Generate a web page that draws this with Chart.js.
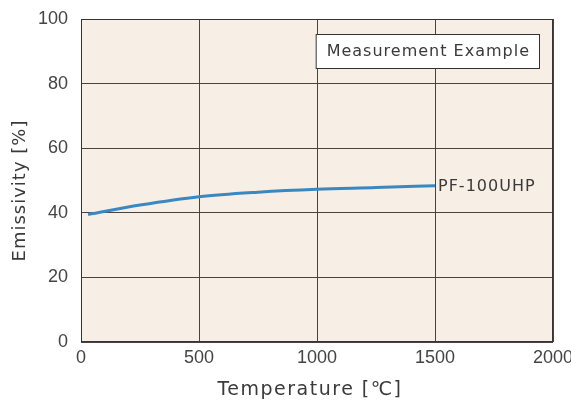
<!DOCTYPE html>
<html>
<head>
<meta charset="utf-8">
<script src="https://cdn.jsdelivr.net/npm/chart.js@4/dist/chart.umd.min.js"></script>
<style>
  html, body { margin: 0; padding: 0; background: #ffffff; }
  #wrap { width: 571px; height: 400px; }
</style>
</head>
<body>
<div id="wrap"><canvas id="c" width="571" height="400"></canvas></div>
<script>
const temperatures = [30, 250, 500, 750, 1000, 1250, 1500];
const emissivity = [39.5, 42.4, 45.0, 46.4, 47.3, 47.8, 48.4];
const seriesName = "PF-100UHP";
const xTicks = [0, 500, 1000, 1500, 2000];
const yTicks = [0, 20, 40, 60, 80, 100];
const xTitle = "Temperature [℃]";
const yTitle = "Emissivity [%]";
const noteText = "Measurement Example";

const FONT = "'DejaVu Sans', sans-serif";
const TICKFONT = "'Liberation Sans', Arial, sans-serif";
const TEXT = "#3a3a3a";

const bgPlugin = {
  id: 'bg',
  beforeDraw(chart) {
    const { ctx, chartArea: a } = chart;
    ctx.save();
    ctx.fillStyle = '#f7eee5';
    ctx.fillRect(a.left, a.top, a.right - a.left, a.bottom - a.top);
    ctx.restore();
  },
  afterDraw(chart) {
    const { ctx, chartArea: a, scales } = chart;
    ctx.save();
    // plot border
    ctx.strokeStyle = '#3b3333';
    ctx.lineWidth = 1;
    ctx.strokeRect(a.left + 0.5, a.top + 0.5, a.right - a.left - 1, a.bottom - a.top - 1);
    // series label at last point
    const n = temperatures.length - 1;
    const px = scales.x.getPixelForValue(temperatures[n]);
    const py = scales.y.getPixelForValue(emissivity[n]);
    ctx.letterSpacing = '1px';
    ctx.font = "16px " + FONT;
    ctx.fillStyle = TEXT;
    ctx.textAlign = 'left';
    ctx.textBaseline = 'middle';
    ctx.fillText(seriesName, px + 3, py + 1);
    // note box
    ctx.font = "16px " + FONT;
    const w = ctx.measureText(noteText).width + 20;
    const h = 34;
    const bx = a.right - 14 - w;
    const by = a.top + 15;
    ctx.fillStyle = '#ffffff';
    ctx.fillRect(bx, by, w, h);
    ctx.strokeStyle = '#333';
    ctx.strokeRect(bx + 0.5, by + 0.5, w, h);
    ctx.fillStyle = TEXT;
    ctx.textAlign = 'center';
    ctx.fillText(noteText, bx + w / 2 + 1, by + h / 2 + 1);
    // axis titles
    ctx.letterSpacing = '1.5px';
    ctx.font = "19px " + FONT;
    ctx.textAlign = 'center';
    ctx.textBaseline = 'middle';
    ctx.fillText(xTitle, (a.left + a.right) / 2 - 7, a.bottom + 48);
    ctx.letterSpacing = '1px';
    ctx.font = "18px " + FONT;
    ctx.translate(20, (a.top + a.bottom) / 2 + 10);
    ctx.rotate(-Math.PI / 2);
    ctx.fillText(yTitle, 0, 0);
    ctx.restore();
  }
};

new Chart(document.getElementById('c'), {
  type: 'scatter',
  data: {
    datasets: [{
      label: seriesName,
      data: temperatures.map((t, i) => ({ x: t, y: emissivity[i] })),
      showLine: true,
      borderColor: '#3a88c2',
      borderWidth: 3,
      pointRadius: 0,
      cubicInterpolationMode: 'monotone',
      fill: false
    }]
  },
  options: {
    responsive: false,
    animation: false,
    devicePixelRatio: 1,
    layout: { padding: { top: 19, right: 18, left: 0, bottom: 0 } },
    plugins: { legend: { display: false }, tooltip: { enabled: false } },
    scales: {
      x: {
        type: 'linear',
        min: 0, max: 2000,
        afterBuildTicks(s) { s.ticks = xTicks.map(v => ({ value: v })); },
        afterFit(s) { s.height = 58; s.paddingRight = 0; s.paddingLeft = 0; },
        grid: { color: '#4a4242', lineWidth: 1, drawTicks: false },
        border: { display: false },
        ticks: { color: '#444', font: { family: TICKFONT, size: 18 }, padding: 5, maxRotation: 0, callback: v => String(v) },
        title: { display: false }
      },
      y: {
        type: 'linear',
        min: 0, max: 100,
        afterBuildTicks(s) { s.ticks = yTicks.map(v => ({ value: v })); },
        afterFit(s) { s.width = 81; s.paddingTop = 0; s.paddingBottom = 0; },
        grid: { color: '#4a4242', lineWidth: 1, drawTicks: false },
        border: { display: false },
        ticks: { color: '#444', font: { family: TICKFONT, size: 18 }, padding: 13, callback: v => String(v) },
        title: { display: false }
      }
    }
  },
  plugins: [bgPlugin]
});
</script>
</body>
</html>
